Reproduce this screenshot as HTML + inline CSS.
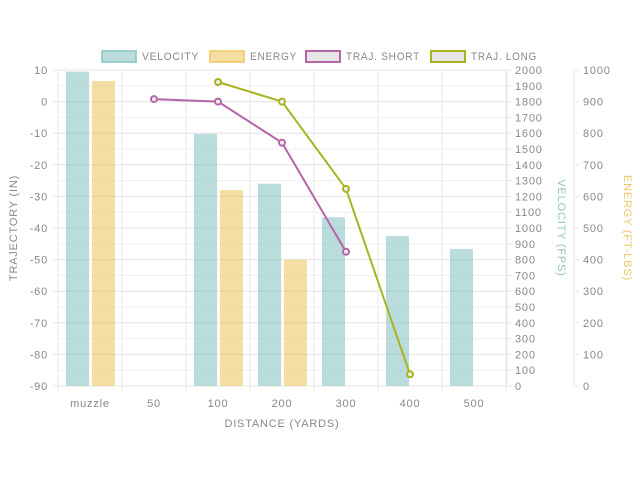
<!DOCTYPE html>
<html><head><meta charset="utf-8"><style>
body{margin:0;background:#fff}
svg text{font-family:"Liberation Sans",sans-serif;font-size:11px;fill:#888;letter-spacing:0.8px}
</style></head><body>
<svg id="c" width="640" height="480"></svg>
<script>
const categories=["muzzle","50","100","200","300","400","500"];
const velocity=[1990,null,1595,1280,1068,949,867];
const energy=[965,null,620,400,null,null,null];
const trajShort=[null,0.8,0,-13,-47.5,null,null];
const trajLong=[null,null,6.2,0,-27.6,-86.3,null];
const leftTicks=[10,0,-10,-20,-30,-40,-50,-60,-70,-80,-90];
const velTicks=[0,100,200,300,400,500,600,700,800,900,1000,1100,1200,1300,1400,1500,1600,1700,1800,1900,2000];
const enTicks=[0,100,200,300,400,500,600,700,800,900,1000];

const NS="http://www.w3.org/2000/svg",svg=document.getElementById('c');
const L=58,R=506,T=70,B=386,band=(R-L)/categories.length;
const yL=v=>T+(10-v)/100*(B-T), yV=v=>B-v/2000*(B-T), yE=v=>B-v/1000*(B-T);
const xc=i=>L+band*(i+0.5);
function el(t,a,p){const e=document.createElementNS(NS,t);for(const k in a)e.setAttribute(k,a[k]);(p||svg).appendChild(e);return e;}
function txt(s,a){const e=el('text',a);e.textContent=s;return e;}
// grid
velTicks.forEach(v=>{const g=el('line',{x1:L,x2:R,y1:yV(v),y2:yV(v),stroke:'#f0f0f0'});});
leftTicks.forEach(v=>{const g=el('line',{x1:L-5,x2:R,y1:yL(v),y2:yL(v),stroke:'#e6e6e6'});
 const t=txt(v,{x:L-10,y:yL(v)+4,'text-anchor':'end'});});
for(let i=0;i<=categories.length;i++){const g=el('line',{x1:L+band*i,x2:L+band*i,y1:T,y2:B+5,stroke:'#e8e8e8'});}
// bars
const bw=23;
categories.forEach((c,i)=>{
 if(velocity[i]!=null){const b=el('rect',{x:L+band*i+8,y:yV(velocity[i]),width:bw,height:B-yV(velocity[i]),fill:'rgba(140,196,199,0.6)'});}
 if(energy[i]!=null){const b=el('rect',{x:L+band*i+34,y:yE(energy[i]),width:bw,height:B-yE(energy[i]),fill:'rgba(238,200,100,0.6)'});}
 const t=txt(c,{x:xc(i),y:B+21,'text-anchor':'middle'});
});
// lines
function line(data,col,name){let pts=[];data.forEach((v,i)=>{if(v!=null)pts.push([xc(i),yL(v)]);});
 const p=el('polyline',{points:pts.map(p=>p.join(',')).join(' '),fill:'none',stroke:col,'stroke-width':2});
 pts.forEach(q=>{const c=el('circle',{cx:q[0],cy:q[1],r:3,fill:'#eee',stroke:col,'stroke-width':2});});}
line(trajShort,'#b565a7','traj-short');
line(trajLong,'#a9b320','traj-long');
// right axes
el('line',{x1:507,x2:507,y1:T,y2:B,stroke:'#e6e6e6'});
velTicks.forEach(v=>{el('line',{x1:507,x2:512,y1:yV(v),y2:yV(v),stroke:'#e6e6e6'});const t=txt(v,{x:515,y:yV(v)+4});});
el('line',{x1:574,x2:574,y1:T,y2:B,stroke:'#e6e6e6'});
enTicks.forEach(v=>{el('line',{x1:574,x2:579,y1:yE(v),y2:yE(v),stroke:'#e6e6e6'});const t=txt(v,{x:583,y:yE(v)+4});});
// titles
let t=txt('TRAJECTORY (IN)',{transform:'translate(17,228) rotate(-90)','text-anchor':'middle'});
t=txt('VELOCITY (FPS)',{transform:'translate(558,228) rotate(90)','text-anchor':'middle',style:'fill:#8cc4c7'});
t=txt('ENERGY (FT-LBS)',{transform:'translate(624,228) rotate(90)','text-anchor':'middle',style:'fill:#eec864'});
t=txt('DISTANCE (YARDS)',{x:282,y:427,'text-anchor':'middle'});
// legend
const leg=[['VELOCITY','rgba(140,196,199,0.6)','rgba(140,196,199,0.8)',101,57],['ENERGY','rgba(238,200,100,0.6)','rgba(238,200,100,0.8)',209,47],['TRAJ. SHORT','#e6e6e6','#b565a7',305,74],['TRAJ. LONG','#e6e6e6','#a9b320',430,66]];
leg.forEach(l=>{const g=el('g',{});
 el('rect',{x:l[3]+1,y:51,width:34,height:11,fill:l[1],stroke:l[2],'stroke-width':2},g);
 const s=el('text',{x:l[3]+41,y:60,textLength:l[4],lengthAdjust:'spacingAndGlyphs'},g);s.textContent=l[0];});
</script>
</body></html>
